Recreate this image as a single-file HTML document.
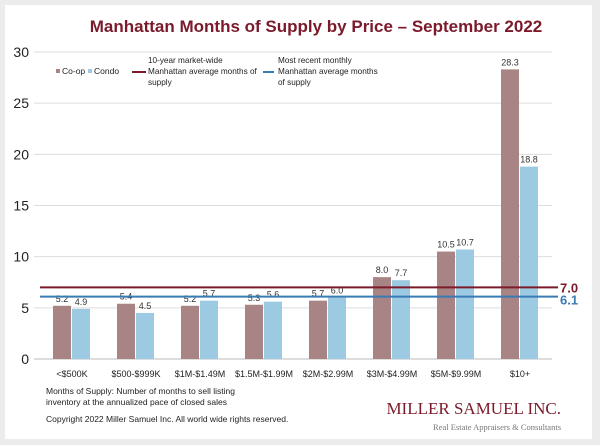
<!DOCTYPE html>
<html><head><meta charset="utf-8"><style>
body{margin:0;background:#ececec;width:600px;height:445px;overflow:hidden;font-family:"Liberation Sans",sans-serif}
#card{position:absolute;left:5px;top:5px;width:587px;height:434px;background:#fff}
</style></head><body>
<div id="card"></div>
<svg id="c" width="600" height="445" style="position:absolute;left:0;top:0"></svg>
<script>
const categories=["<$500K","$500-$999K","$1M-$1.49M","$1.5M-$1.99M","$2M-$2.99M","$3M-$4.99M","$5M-$9.99M","$10+"];
const coop=[5.2,5.4,5.2,5.3,5.7,8.0,10.5,28.3];
const condo=[4.9,4.5,5.7,5.6,6.0,7.7,10.7,18.8];
const yTicks=[0,5,10,15,20,25,30];
const avg10=7.0, recent=6.1;
const svg=document.getElementById('c');const NS="http://www.w3.org/2000/svg";
const X0=40,X1=552,Y0=359,Y1=52,YMAX=30;
const y=v=>Y0-(v/YMAX)*(Y0-Y1);
const bw=(X1-X0)/categories.length;
const xc=i=>X0+bw*(i+0.5);
function el(t,a,txt){const e=document.createElementNS(NS,t);for(const k in a)e.setAttribute(k,a[k]);if(txt!=null)e.textContent=txt;svg.appendChild(e);return e;}
let e;
e=el('text',{x:316,y:32,'text-anchor':'middle','font-size':17,'font-weight':'bold',fill:'#7a1a2a'},'Manhattan Months of Supply by Price – September 2022');

yTicks.forEach(t=>{
 e=el('line',{x1:X0-6,x2:X1,y1:y(t),y2:y(t),stroke:t?'#ddd':'#bbb','stroke-width':1});
 
 e=el('text',{x:29,y:y(t)+5,'text-anchor':'end','font-size':14,fill:'#222'},t);
 
});
categories.forEach((c,i)=>{
 const x=xc(i);
 e=el('rect',{x:x-19,y:y(coop[i]),width:18,height:Y0-y(coop[i]),fill:'#a88485'});
 
 e=el('rect',{x:x,y:y(condo[i]),width:18,height:Y0-y(condo[i]),fill:'#9ccae2'});
 
 e=el('text',{x:x-10,y:y(coop[i])-4,'text-anchor':'middle','font-size':9,fill:'#333'},coop[i].toFixed(1));
 
 e=el('text',{x:x+9,y:y(condo[i])-4,'text-anchor':'middle','font-size':9,fill:'#333'},condo[i].toFixed(1));
 
 e=el('text',{x:x,y:377,'text-anchor':'middle','font-size':9,fill:'#222'},c);
 
});
e=el('line',{x1:X0,x2:X1+6,y1:y(avg10),y2:y(avg10),stroke:'#7a1a2a','stroke-width':2});

e=el('line',{x1:X0,x2:X1+6,y1:y(recent),y2:y(recent),stroke:'#3a7ab5','stroke-width':2});

e=el('text',{x:560,y:y(avg10)+5,'font-size':13,'font-weight':'bold',fill:'#7a1a2a'},avg10.toFixed(1));

e=el('text',{x:560,y:y(recent)+8,'font-size':13,'font-weight':'bold',fill:'#3a7ab5'},recent.toFixed(1));

// legend
e=el('rect',{x:56,y:69,width:4,height:4,fill:'#a88485'});
e=el('text',{x:62,y:74,'font-size':8.5,fill:'#222'},'Co-op');
e=el('rect',{x:88,y:69,width:4,height:4,fill:'#9ccae2'});
e=el('text',{x:94,y:74,'font-size':8.5,fill:'#222'},'Condo');
e=el('line',{x1:132,x2:146,y1:72,y2:72,stroke:'#7a1a2a','stroke-width':2});
['10-year market-wide','Manhattan average months of','supply'].forEach((t,k)=>{e=el('text',{x:148,y:63+k*11,'font-size':8.2,fill:'#222'},t);});
e=el('line',{x1:263,x2:274,y1:72,y2:72,stroke:'#3a7ab5','stroke-width':2});
['Most recent monthly','Manhattan average months','of supply'].forEach((t,k)=>{e=el('text',{x:278,y:63+k*11,'font-size':8.2,fill:'#222'},t);});
// footnotes
['Months of Supply: Number of months to sell listing','inventory at the annualized pace of closed sales'].forEach((t,k)=>{e=el('text',{x:46,y:394+k*11,'font-size':8.5,fill:'#222'},t);});
e=el('text',{x:46,y:422,'font-size':8.5,fill:'#222'},'Copyright 2022 Miller Samuel Inc.  All world wide rights reserved.');
e=el('text',{x:561,y:414,'text-anchor':'end','font-family':'Liberation Serif, serif','font-size':17,fill:'#7a1a2a'},'MILLER SAMUEL INC.');
e=el('text',{x:561,y:430,'text-anchor':'end','font-family':'Liberation Serif, serif','font-size':8.5,fill:'#777'},'Real Estate Appraisers & Consultants');
</script>
</body></html>
